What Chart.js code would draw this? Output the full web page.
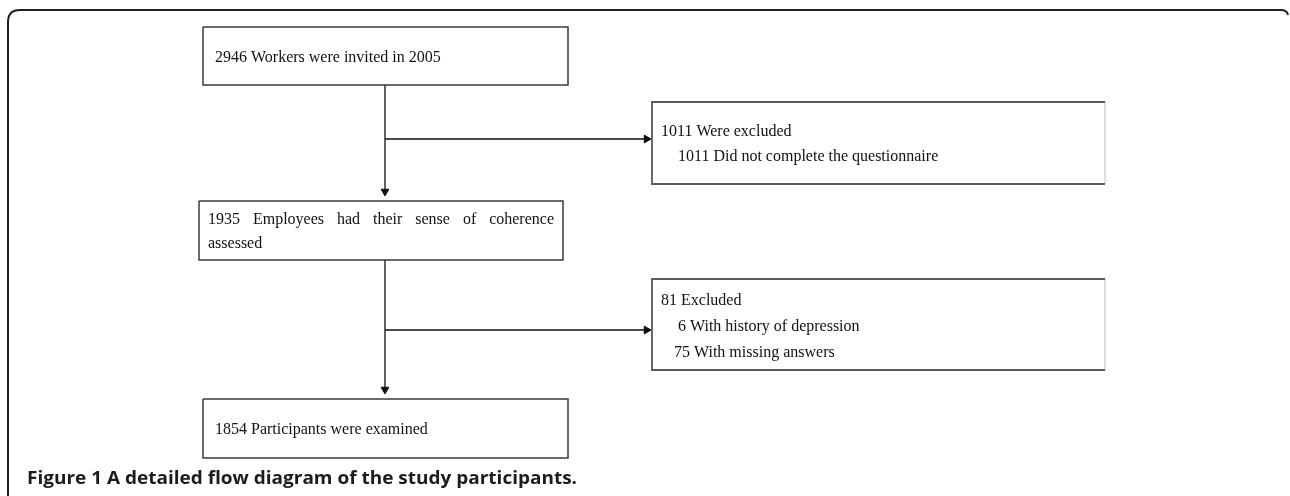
<!DOCTYPE html>
<html>
<head>
<meta charset="utf-8">
<script src="https://cdn.jsdelivr.net/npm/chart.js@4.4.1/dist/chart.umd.min.js"></script>
<style>
  html, body { margin: 0; padding: 0; background: #fff; }
  #wrap { width: 1290px; height: 496px; position: relative; }
</style>
</head>
<body>
<div id="wrap"><canvas id="flowChart"></canvas></div>
<script>
// study flow: counts and labels
const flowCounts = [2946, 1935, 1854];
const flowLabels = ['Workers were invited in 2005', 'Employees had their sense of coherence assessed', 'Participants were examined'];
const excludedTotals = [1011, 81];
const excludedHeads = ['Were excluded', 'Excluded'];
const reasonCounts = [[1011], [6, 75]];
const reasonLabels = [['Did not complete the questionnaire'], ['With history of depression', 'With missing answers']];
const caption = 'Figure 1 A detailed flow diagram of the study participants.';

// layout (page units, y grows down)
const mainBoxes = [
  { x0: 203, x1: 568, y0: 27, y1: 85, pad: 12, textRight: 556, base: [62] },
  { x0: 199, x1: 563, y0: 201, y1: 260, pad: 9, textRight: 554, base: [224, 248] },
  { x0: 203, x1: 568, y0: 399, y1: 458, pad: 12, textRight: 556, base: [434] }
];
const wrapWidth = 320;
const sideBoxes = [
  { x0: 652, x1: 1105, y0: 102, y1: 184, pad: 9, base: [136, 161], indent: [26] },
  { x0: 652, x1: 1105, y0: 279, y1: 370, pad: 9, base: [305, 331, 357], indent: [26, 22] }
];
const spineX = 385;
const branchY = [139, 330];
const headR = 4.5;

const datasets = [];
const line = (pts, color, w) => ({
  data: pts, showLine: true, borderColor: color, borderWidth: w, pointRadius: 0,
  borderJoinStyle: 'miter', borderCapStyle: 'butt', fill: false
});

mainBoxes.forEach(b => {
  datasets.push(line([{x:b.x0,y:b.y0},{x:b.x1,y:b.y0},{x:b.x1,y:b.y1},{x:b.x0,y:b.y1},{x:b.x0,y:b.y0}], '#3a3a3a', 1.5));
});
sideBoxes.forEach(b => {
  datasets.push(line([{x:b.x1,y:b.y0},{x:b.x0,y:b.y0},{x:b.x0,y:b.y1},{x:b.x1,y:b.y1}], '#5a5a5a', 1.8));
  datasets.push(line([{x:b.x1,y:b.y0},{x:b.x1,y:b.y1}], '#c8c8c8', 1.2));
});

// connectors
const heads = [];
for (let i = 0; i < 2; i++) {
  const top = mainBoxes[i].y1, next = mainBoxes[i + 1].y0;
  datasets.push(line([{x:spineX,y:top},{x:spineX,y:next - 6}], '#111', 1.3));
  datasets.push(line([{x:spineX,y:branchY[i]},{x:sideBoxes[i].x0 - 6,y:branchY[i]}], '#111', 1.3));
  heads.push({ x: spineX, y: next - 5 - headR, r: 180 });
  heads.push({ x: sideBoxes[i].x0 - 1 - headR, y: branchY[i], r: 90 });
}
datasets.push({
  data: heads.map(h => ({ x: h.x, y: h.y })),
  pointStyle: 'triangle', pointRadius: headR, pointRotation: heads.map(h => h.r),
  backgroundColor: '#111', borderColor: '#111', borderWidth: 1, showLine: false
});

const textPlugin = {
  id: 'flowText',
  beforeDatasetsDraw(chart) {
    const { ctx, scales: { x, y } } = chart;
    const px = v => x.getPixelForValue(v), py = v => y.getPixelForValue(v);
    // rounded figure frame
    ctx.save();
    ctx.strokeStyle = '#222';
    ctx.lineWidth = 2;
    ctx.beginPath();
    ctx.moveTo(px(8), py(496));
    ctx.lineTo(px(8), py(22));
    ctx.quadraticCurveTo(px(8), py(10), px(20), py(10));
    ctx.lineTo(px(1281), py(10));
    ctx.quadraticCurveTo(px(1287), py(10), px(1288), py(15));
    ctx.stroke();
    ctx.restore();
  },
  afterDatasetsDraw(chart) {
    const { ctx, scales: { x, y } } = chart;
    const px = v => x.getPixelForValue(v), py = v => y.getPixelForValue(v);
    ctx.save();
    ctx.fillStyle = '#111';
    ctx.textBaseline = 'alphabetic';
    ctx.font = '16px "Liberation Serif", "Times New Roman", serif';

    mainBoxes.forEach((b, i) => {
      const words = (flowCounts[i] + ' ' + flowLabels[i]).split(' ');
      const lines = [];
      let cur = [];
      words.forEach(w => {
        const test = cur.concat(w).join(' ');
        if (ctx.measureText(test).width > wrapWidth && cur.length) { lines.push(cur); cur = [w]; }
        else cur.push(w);
      });
      lines.push(cur);
      lines.forEach((ws, li) => {
        const bl = py(b.base[Math.min(li, b.base.length - 1)]);
        const left = px(b.x0 + b.pad);
        if (li < lines.length - 1 && ws.length > 1) {
          // justified line
          const total = ws.reduce((s, w) => s + ctx.measureText(w).width, 0);
          const gap = (px(b.textRight) - left - total) / (ws.length - 1);
          let cx = left;
          ws.forEach(w => { ctx.fillText(w, cx, bl); cx += ctx.measureText(w).width + gap; });
        } else {
          ctx.fillText(ws.join(' '), left, bl);
        }
      });
    });

    sideBoxes.forEach((b, i) => {
      ctx.fillText(excludedTotals[i] + ' ' + excludedHeads[i], px(b.x0 + b.pad), py(b.base[0]));
      reasonCounts[i].forEach((c, j) => {
        ctx.fillText(c + ' ' + reasonLabels[i][j], px(b.x0 + b.indent[j]), py(b.base[j + 1]));
      });
    });

    // caption, stretched to the reference width
    ctx.fillStyle = '#1c1c1c';
    ctx.font = 'bold 18px "Open Sans", "Noto Sans", sans-serif';
    const capW = ctx.measureText(caption).width;
    const target = px(577) - px(27);
    ctx.translate(px(27), py(484));
    ctx.scale(target / capW, 1);
    ctx.fillText(caption, 0, 0);
    ctx.restore();
  }
};

new Chart(document.getElementById('flowChart').getContext('2d'), {
  type: 'scatter',
  data: { datasets: datasets },
  options: {
    responsive: true,
    maintainAspectRatio: false,
    animation: false,
    layout: { padding: 0, autoPadding: false },
    plugins: { legend: { display: false }, tooltip: { enabled: false } },
    scales: {
      x: { type: 'linear', min: 0, max: 1290, display: false },
      y: { type: 'linear', min: 0, max: 496, reverse: true, display: false }
    }
  },
  plugins: [textPlugin]
});
</script>
</body>
</html>
